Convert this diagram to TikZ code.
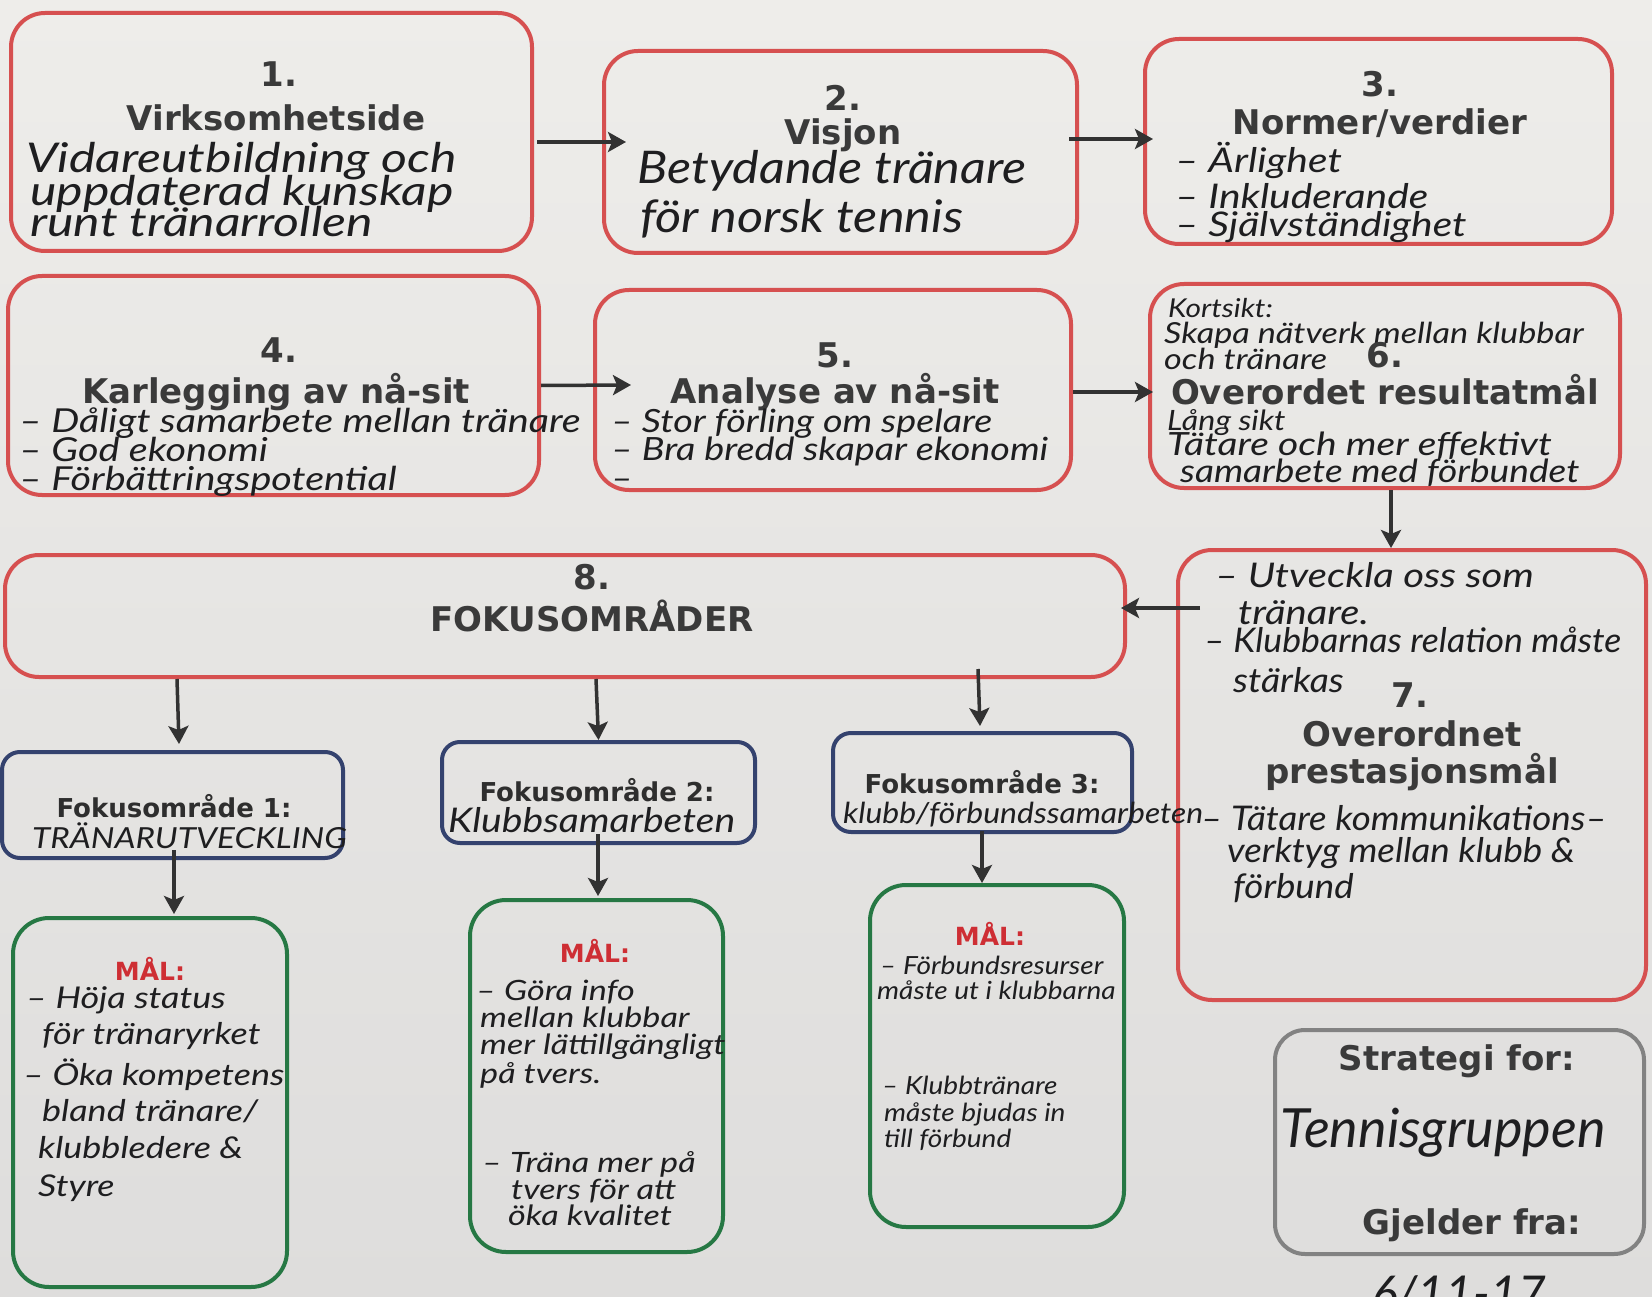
\documentclass[tikz,border=0pt]{standalone}
\usepackage{graphicx}
\usepackage{fontspec}
\setmainfont{DejaVu Sans}
\newfontfamily\hand{Lato}
\usetikzlibrary{arrows.meta,calc}

\definecolor{paperA}{RGB}{238,237,234}
\definecolor{paperB}{RGB}{222,221,220}
\definecolor{boxred}{RGB}{214,80,80}
\definecolor{boxblue}{RGB}{52,66,110}
\definecolor{boxgreen}{RGB}{38,120,68}
\definecolor{boxgray}{RGB}{130,130,130}
\definecolor{printgray}{RGB}{58,58,58}
\definecolor{malred}{RGB}{206,46,52}
\definecolor{ink}{RGB}{30,30,32}
\definecolor{arrgray}{RGB}{50,50,50}

% handwritten lines are set a little wider than the font
\newcommand\hx[2][1.15]{\scalebox{#1}[1]{#2}}

\tikzset{
  box/.style={draw, rounded corners=34pt, line width=4pt, inner sep=0pt},
  redbox/.style={box, draw=boxred},
  bluebox/.style={box, draw=boxblue, rounded corners=18pt},
  greenbox/.style={box, draw=boxgreen, rounded corners=36pt},
  graybox/.style={box, draw=boxgray, rounded corners=30pt},
  head/.style={font=\bfseries\fontsize{34}{36}\selectfont, text=printgray, inner sep=0pt},
  fhead/.style={font=\bfseries\fontsize{26}{28}\selectfont, text=printgray!80!black, inner sep=0pt},
  mal/.style={font=\bfseries\fontsize{25}{28}\selectfont, text=malred, inner sep=0pt},
  hw/.style={font=\hand\itshape\fontsize{#1}{#1}\selectfont, text=ink, anchor=mid west, inner sep=0pt, yshift=-10pt},
  arr/.style={draw=arrgray, line width=3.5pt, -{Stealth[length=18pt,width=20pt,inset=4pt]}},
}

\begin{document}
\begin{tikzpicture}[x=1pt,y=-1pt]
\useasboundingbox (0,0) rectangle (1652,1297);
\clip (0,0) rectangle (1652,1297);
\shade[top color=paperA, bottom color=paperB] (0,0) rectangle (1652,1297);

% ---------- row 1 ----------
\node[redbox, minimum width=521pt, minimum height=238pt] (b1) at (271.5,132) {};
\node[head] (n1) at (279,74) {1.};
\node[head] (h1) at (276,118) {Virksomhetside};
\node[hw=41] (w1a) at (26,160) {\hx[1.22]{Vidareutbildning och}};
\node[hw=41] (w1b) at (30,193) {\hx[1.22]{uppdaterad kunskap}};
\node[hw=41] (w1c) at (30,224) {\hx[1.22]{runt tränarrollen}};

\node[redbox, minimum width=473pt, minimum height=202pt] (b2) at (840.5,152) {};
\node[head] (n2) at (843,98) {2.};
\node[head] (h2) at (843,135) {Visjon};
\node[hw=45] (w2a) at (637,171) {\hx[1.12]{Betydande tränare}};
\node[hw=45] (w2b) at (640,220) {\hx[1.12]{för norsk tennis}};

\node[redbox, minimum width=467pt, minimum height=205pt] (b3) at (1378.5,141.5) {};
\node[head] (n3) at (1380,84) {3.};
\node[head] (h3) at (1380,123) {Normer/verdier};
\node[hw=34] (w3a) at (1175,160) {\hx[1.2]{– Ärlighet}};
\node[hw=34] (w3b) at (1175,196) {\hx[1.2]{– Inkluderande}};
\node[hw=34] (w3c) at (1175,224) {\hx[1.2]{– Självständighet}};

% ---------- row 2 ----------
\node[redbox, minimum width=531pt, minimum height=219pt] (b4) at (273.5,385.5) {};
\node[head] (n4) at (279,350) {4.};
\node[head] (h4) at (276,392) {Karlegging av nå-sit};
\node[hw=33] (w4a) at (19,420) {\hx[1.2]{– Dåligt samarbete mellan tränare}};
\node[hw=33] (w4b) at (19,449) {\hx[1.2]{– God ekonomi}};
\node[hw=33] (w4c) at (19,478) {\hx[1.2]{– Förbättringspotential}};

\node[redbox, minimum width=476pt, minimum height=200pt] (b5) at (833,390) {};
\node[head] (n5) at (835,355) {5.};
\node[head] (h5) at (835,392) {Analyse av nå-sit};
\node[hw=32] (w5a) at (611,420) {\hx[1.18]{– Stor förling om spelare}};
\node[hw=32] (w5b) at (611,448) {\hx[1.18]{– Bra bredd skapar ekonomi}};
\node[hw=32] (w5c) at (611,477) {\hx[1.18]{–}};

\node[redbox, minimum width=470pt, minimum height=204pt] (b6) at (1385,386) {};
\node[hw=26] (w6a) at (1168,305) {\hx[1.15]{Kortsikt:}};
\node[hw=29] (w6b) at (1164,331) {\hx[1.18]{Skapa nätverk mellan klubbar}};
\node[hw=29] (w6c) at (1164,357) {\hx[1.18]{och tränare}};
\node[head] (n6) at (1385,355) {6.};
\node[head] (h6) at (1385,390) {Overordet resultatmål};
\node[hw=28] (w6d) at (1167,418) {\hx[1.15]{Lång sikt}};
\node[hw=32] (w6e) at (1167,443) {\hx[1.22]{Tätare och mer effektivt}};
\node[hw=32] (w6f) at (1180,470) {\hx[1.16]{samarbete med förbundet}};

% ---------- focus areas ----------
\node[redbox, minimum width=1120pt, minimum height=122pt] (b8) at (565,616) {};
\node[head] (n8) at (592,577) {8.};
\node[head] (h8) at (592,616) {FOKUSOMRÅDER};

\node[redbox, minimum width=468pt, minimum height=450pt] (b7) at (1412,775) {};
\node[hw=34] (w7a) at (1215,575) {\hx[1.18]{– Utveckla oss som}};
\node[hw=34] (w7b) at (1238,612) {\hx[1.18]{tränare.}};
\node[hw=34] (w7c) at (1204,640) {\hx[1.05]{– Klubbarnas relation måste}};
\node[hw=34] (w7d) at (1233,680) {\hx[1.1]{stärkas}};
\node[head] (n7) at (1410,695) {7.};
\node[head] (h7a) at (1412,734) {Overordnet};
\node[head] (h7b) at (1412,772) {prestasjonsmål};
\node[hw=34] (w7e) at (1201,818) {\hx[1.08]{– Tätare kommunikations–}};
\node[hw=34] (w7f) at (1227,850) {\hx[1.08]{verktyg mellan klubb \&}};
\node[hw=34] (w7g) at (1233,886) {\hx[1.08]{förbund}};

\node[bluebox, minimum width=341pt, minimum height=106pt] (fa1) at (172.5,805) {};
\node[fhead] (f1) at (174,806) {Fokusområde 1:};
\node[hw=29] (wf1) at (32,836) {\hx[1.15]{TRÄNARUTVECKLING}};

\node[bluebox, minimum width=313pt, minimum height=101pt] (fa2) at (598.5,792.5) {};
\node[fhead] (f2) at (597,790) {Fokusområde 2:};
\node[hw=34] (wf2) at (448,820) {\hx[1.15]{Klubbsamarbeten}};

\node[bluebox, minimum width=299pt, minimum height=99pt] (fa3) at (982.5,782.5) {};
\node[fhead] (f3) at (982,782) {Fokusområde 3:};
\node[hw=29] (wf3) at (843,811) {\hx[1.1]{klubb/förbundssamarbeten}};

% ---------- goals ----------
\node[greenbox, minimum width=274pt, minimum height=369pt] (m1) at (150,1102.5) {};
\node[mal] (l1) at (150,969) {MÅL:};
\node[hw=30] (m1a) at (26,996) {\hx[1.2]{– Höja status}};
\node[hw=30] (m1b) at (42,1032) {\hx[1.2]{för tränaryrket}};
\node[hw=30] (m1c) at (23,1073) {\hx[1.2]{– Öka kompetens}};
\node[hw=30] (m1d) at (42,1109) {\hx[1.2]{bland tränare/}};
\node[hw=30] (m1e) at (38,1146) {\hx[1.2]{klubbledere \&}};
\node[hw=30] (m1f) at (38,1184) {\hx[1.2]{Styre}};

\node[greenbox, minimum width=253pt, minimum height=352pt] (m2) at (596.5,1076) {};
\node[mal] (l2) at (595,951) {MÅL:};
\node[hw=28] (m2a) at (476,988) {\hx[1.22]{– Göra info}};
\node[hw=28] (m2b) at (480,1015) {\hx[1.22]{mellan klubbar}};
\node[hw=28] (m2c) at (480,1042) {\hx[1.22]{mer lättillgängligt}};
\node[hw=28] (m2d) at (480,1071) {\hx[1.22]{på tvers.}};
\node[hw=28] (m2e) at (482,1160) {\hx[1.22]{– Träna mer på}};
\node[hw=28] (m2f) at (511,1187) {\hx[1.22]{tvers för att}};
\node[hw=28] (m2g) at (508,1213) {\hx[1.22]{öka kvalitet}};

\node[greenbox, minimum width=254pt, minimum height=342pt] (m3) at (997,1056) {};
\node[mal] (l3) at (990,934) {MÅL:};
\node[hw=25] (m3a) at (880,962) {\hx[1.12]{– Förbundsresurser}};
\node[hw=25] (m3b) at (877,987) {\hx[1.12]{måste ut i klubbarna}};
\node[hw=25] (m3c) at (882,1082) {\hx[1.12]{– Klubbtränare}};
\node[hw=25] (m3d) at (884,1109) {\hx[1.12]{måste bjudas in}};
\node[hw=25] (m3e) at (884,1135) {\hx[1.12]{till förbund}};

% ---------- strategy box ----------
\node[graybox, minimum width=369pt, minimum height=224pt] (sb) at (1459.5,1142) {};
\node[head] (s1) at (1457,1061) {Strategi for:};
\node[hw=54, anchor=center, yshift=10pt] (s2) at (1443,1133) {Tennisgruppen};
\node[head] (s3) at (1472,1225) {Gjelder fra:};
\node[hw=48, anchor=center, yshift=10pt] (s4) at (1459,1294) {6/11-17};

% ---------- connectors ----------
\draw[arr] ($(b1.east)+(3,10)$) -- ($(b2.west)+(24,-10)$);
\draw[arr] ($(b2.east)+(-10,-13)$) -- ($(b3.west)+(10,-2.5)$);
\draw[arr] ($(b4.east)+(0,0)$) -- ($(b5.west)+(38,-5)$);
\draw[arr] ($(b5.east)+(0,2)$) -- ($(b6.west)+(5,6)$);
\draw[arr] ($(b6.south)+(6,0)$) -- ($(b7.north)+(-21,0)$);
\draw[arr] ($(b7.west)+(24,-167)$) -- ($(b8.east)+(-6,-8)$);
\draw[arr] ($(b8.south west)+(174,0)$) -- ($(fa1.north)+(6.5,-6)$);
\draw[arr] ($(b8.south west)+(593,0)$) -- ($(fa2.north)+(0,0)$);
\draw[arr] ($(b8.south west)+(975,-10)$) -- ($(fa3.north)+(-2.5,-5)$);
\draw[arr] ($(fa1.south)+(1.5,-10)$) -- ($(m1.north)+(24,-2)$);
\draw[arr] ($(fa2.south)+(-0.5,-11)$) -- ($(m2.north)+(1.5,-2)$);
\draw[arr] ($(fa3.south)+(-0.5,-3)$) -- ($(m3.north)+(-15,0)$);
\end{tikzpicture}
\end{document}
